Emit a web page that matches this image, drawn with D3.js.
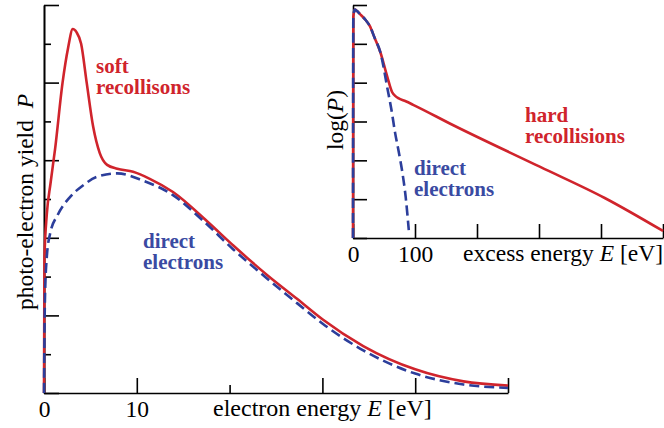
<!DOCTYPE html>
<html lang="en">
<head>
<meta charset="utf-8">
<title>Photo-electron yield</title>
<script src="https://cdn.jsdelivr.net/npm/d3@7"></script>
<style>
  body { margin: 0; background: #fff; }
  text { font-family: "Liberation Serif", "Times New Roman", serif; }
</style>
</head>
<body>
<script>
// main panel: linear yield vs electron energy
var mainE      = [0, 0.05, 0.3, 0.7, 1.2, 2.0, 2.6, 3.1, 3.5, 4.0, 4.6, 5.3, 6.0, 6.8, 7.9, 9.6, 11.4, 13.9, 17.6, 20.4, 24, 27.3, 30, 34.4, 40, 45.2, 50];
var mainRed    = [0, 3.5, 4.6, 5.4, 6.3, 8.0, 8.9, 9.38, 9.3, 9.0, 8.0, 6.86, 6.19, 5.88, 5.78, 5.7, 5.52, 5.18, 4.42, 3.8, 3.05, 2.42, 1.9, 1.21, 0.61, 0.3, 0.19];
var directE    = [0, 0.1, 0.3, 0.65, 1.5, 2.8, 4.2, 5.7, 7.9, 10.7, 13.9, 17.1, 20.4, 24, 27.3, 30, 34.4, 40, 45.2, 50];
var directBlue = [0, 2.4, 3.5, 4.1, 4.6, 5.05, 5.35, 5.57, 5.66, 5.47, 5.1, 4.45, 3.7, 2.96, 2.31, 1.79, 1.1, 0.5, 0.22, 0.13];

// inset: log(P) vs excess energy
var insetE     = [0, 0.5, 3, 6, 11, 20, 27, 35, 44, 55, 63, 68, 73, 85, 97, 161, 302, 406, 500];
var insetRed   = [0, 5.7, 5.88, 5.85, 5.77, 5.62, 5.46, 5.15, 4.79, 4.17, 3.76, 3.66, 3.6, 3.52, 3.43, 2.91, 1.83, 1.03, 0.18];
var insetDE    = [0, 0.5, 3, 6, 11, 20, 27, 35, 44, 56, 62, 68, 74, 79, 85, 90];
var insetBlue  = [0, 5.7, 5.88, 5.85, 5.77, 5.62, 5.46, 5.15, 4.79, 3.81, 3.3, 2.7, 2.2, 1.75, 1.05, 0.2];

var mainXTicks = [0, 10, 20, 30, 40, 50];
var mainXLabels = ["0", "10", "", "", "", ""];
var mainYMajor = [0, 2, 4, 6, 8, 10];
var mainYMinor = [1, 3, 5, 7, 9];
var insetXTicks = [0, 100, 200, 300, 400, 500];
var insetXLabels = ["0", "100", "", "", "", ""];
var insetYTicks = [0, 1, 2, 3, 4, 5, 6];

var red = "#d0242c", blue = "#2c3e9b", blueText = "#3a4aa2";
var fs = 23.5;

var w = 664, h = 428;
var svg = d3.select("body").append("svg").attr("width", w).attr("height", h);

var x = d3.scaleLinear().domain([0, 50]).range([44, 508]);
var y = d3.scaleLinear().domain([0, 10]).range([393, 5]);
var xi = d3.scaleLinear().domain([0, 500]).range([353, 663]);
var yi = d3.scaleLinear().domain([0, 6]).range([238, 5]);

function styleAxis(g) {
  g.selectAll("path.domain").attr("stroke", "#000").attr("stroke-width", 1.6);
  g.selectAll(".tick line").attr("stroke", "#000").attr("stroke-width", 1.6);
  g.selectAll(".tick text").attr("font-size", fs).attr("fill", "#000")
    .attr("font-family", "Liberation Serif");
}

// main axes
var gx = svg.append("g").attr("transform", "translate(0,393)")
  .call(d3.axisBottom(x).tickValues(mainXTicks).tickSizeInner(-15).tickSizeOuter(0).tickPadding(7)
    .tickFormat(function(d, i) { return mainXLabels[i]; }));
gx.selectAll(".tick line").attr("y2", function(d) { return d === 20 ? -8 : -15; });
styleAxis(gx);

var gy = svg.append("g").attr("transform", "translate(44,0)")
  .call(d3.axisLeft(y).tickValues(mainYMajor).tickSizeInner(-15).tickSizeOuter(0).tickFormat(""));
styleAxis(gy);
var gy2 = svg.append("g").attr("transform", "translate(44,0)")
  .call(d3.axisLeft(y).tickValues(mainYMinor).tickSizeInner(-7).tickSizeOuter(0).tickFormat(""));
styleAxis(gy2);

// inset axes
var gxi = svg.append("g").attr("transform", "translate(0,238)")
  .call(d3.axisBottom(xi).tickValues(insetXTicks).tickSizeInner(-14).tickSizeOuter(0).tickPadding(7)
    .tickFormat(function(d, i) { return insetXLabels[i]; }));
styleAxis(gxi);
var gyi = svg.append("g").attr("transform", "translate(353,0)")
  .call(d3.axisLeft(yi).tickValues(insetYTicks).tickSizeInner(-14).tickSizeOuter(0).tickFormat(""));
styleAxis(gyi);

// curves
function lineOf(xs, ys, sx, sy) {
  var pts = xs.map(function(v, i) { return [v, ys[i]]; });
  return d3.line().x(function(d) { return sx(d[0]); }).y(function(d) { return sy(d[1]); })
    .curve(d3.curveMonotoneX)(pts);
}

svg.append("path").attr("d", lineOf(mainE, mainRed, x, y))
  .attr("fill", "none").attr("stroke", red).attr("stroke-width", 2.6);
svg.append("path").attr("d", lineOf(directE, directBlue, x, y))
  .attr("fill", "none").attr("stroke", blue).attr("stroke-width", 2.6).attr("stroke-dasharray", "10,5");

svg.append("path").attr("d", lineOf(insetE, insetRed, xi, yi))
  .attr("fill", "none").attr("stroke", red).attr("stroke-width", 2.6);
svg.append("path").attr("d", lineOf(insetDE, insetBlue, xi, yi))
  .attr("fill", "none").attr("stroke", blue).attr("stroke-width", 2.6).attr("stroke-dasharray", "10,5");

// axis titles
var t = svg.append("text").attr("x", 213).attr("y", 416).attr("font-size", 24);
t.append("tspan").text("electron energy ");
t.append("tspan").attr("font-style", "italic").text("E");
t.append("tspan").text(" [eV]");

var ti = svg.append("text").attr("x", 663).attr("y", 261).attr("font-size", fs).attr("text-anchor", "end");
ti.append("tspan").text("excess energy ");
ti.append("tspan").attr("font-style", "italic").text("E");
ti.append("tspan").text(" [eV]");

var ty = svg.append("text").attr("transform", "translate(33,202) rotate(-90)")
  .attr("text-anchor", "middle").attr("font-size", fs);
ty.append("tspan").text("photo-electron yield\u00a0\u00a0");
ty.append("tspan").attr("font-style", "italic").text("P");

var tl = svg.append("text").attr("transform", "translate(343,120) rotate(-90)")
  .attr("text-anchor", "middle").attr("font-size", fs);
tl.append("tspan").text("log(");
tl.append("tspan").attr("font-style", "italic").text("P");
tl.append("tspan").text(")");

// curve labels
function label(lines, x0, y0, color) {
  var txt = svg.append("text").attr("font-size", 21).attr("font-weight", "bold").attr("fill", color);
  lines.forEach(function(s, i) {
    txt.append("tspan").attr("x", x0).attr("y", y0 + i * 21).text(s);
  });
}
label(["soft", "recollisons"], 96, 73, red);
label(["direct", "electrons"], 143, 248, blueText);
label(["direct", "electrons"], 414, 175, blueText);
label(["hard", "recollisions"], 525, 122, red);
</script>
</body>
</html>
